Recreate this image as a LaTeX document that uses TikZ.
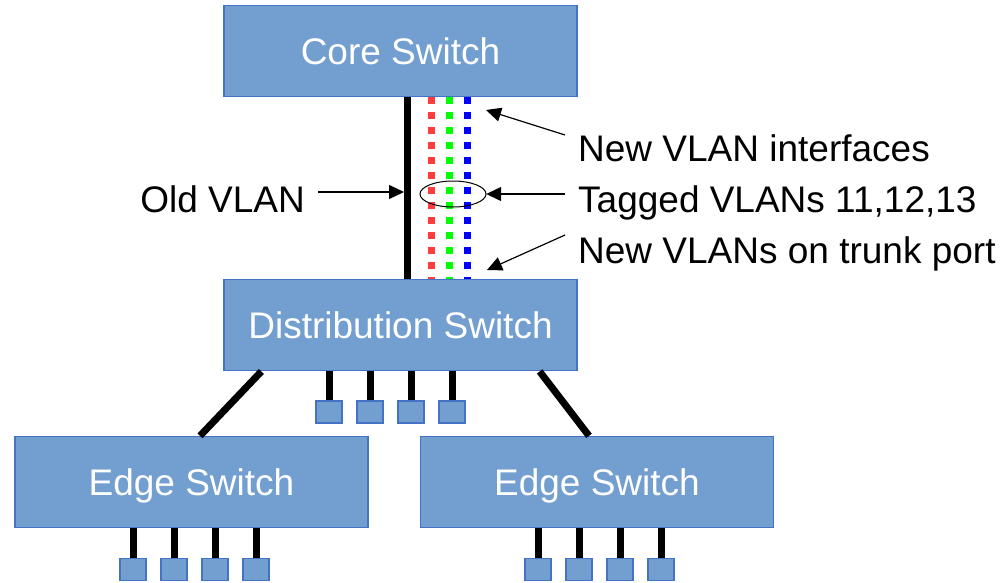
\documentclass[tikz,border=0pt]{standalone}
\usepackage{fontspec}
\setmainfont{Liberation Sans}
\usepackage{tikz}
\usetikzlibrary{positioning,arrows.meta,calc}

\definecolor{swfill}{RGB}{114,159,207}
\definecolor{swline}{RGB}{68,114,196}
\definecolor{vlred}{RGB}{255,60,60}
\definecolor{vlgreen}{RGB}{0,255,0}
\definecolor{vlblue}{RGB}{0,0,255}

\begin{document}
\begin{tikzpicture}[
    x=1pt, y=-1pt,
    node distance=182pt,
    switch/.style={draw=swline, line width=1.3pt, fill=swfill, text=white, minimum width=353pt, minimum height=91pt, inner sep=0pt, font=\fontsize{37}{44}\selectfont, text height=27pt, text depth=0pt},
    port/.style={draw=swline, line width=1.2pt, fill=swfill, minimum width=26pt, minimum height=22pt, inner sep=0pt},
    link/.style={line width=7pt},
    vlan/.style={line width=7pt, dash pattern=on 7pt off 8pt},
    lbl/.style={inner sep=0pt, font=\fontsize{37}{44}\selectfont, text height=27pt, text depth=0pt},
    callout/.style={-{Triangle[length=15pt,width=14pt]}, line width=1.2pt}
]
\useasboundingbox (0,0) rectangle (1006,582);

% switches
\node[switch] (core) at (400.5,51) {Core Switch};
\node[switch, below=of core] (dist) {Distribution Switch};
\node[switch] (edgeL) at (191.5,482) {Edge Switch};
\node[switch] (edgeR) at (597,482) {Edge Switch};

% trunk between core and distribution
\draw[link] ([xshift=6.5pt]core.south) -- ([xshift=6.5pt]dist.north);
\foreach \dx/\col in {30.5/vlred,48.5/vlgreen,66.5/vlblue}
    \draw[vlan,\col] ([xshift=\dx pt]core.south) -- ([xshift=\dx pt]dist.north);
\draw[line width=1pt] (453,194) ellipse (33 and 13);
\node[minimum width=66pt, minimum height=26pt, inner sep=0pt] (tagring) at (453,194) {};

% uplinks of the edge switches
\draw[link] ([xshift=38pt]dist.south west) -- ([xshift=8.5pt]edgeL.north);
\draw[link] ([xshift=-38pt]dist.south east) -- ([xshift=-8pt]edgeR.north);

% access ports
\foreach \px [count=\i] in {329,370,411,452} {
    \node[port] (dp\i) at (\px,412) {};
    \draw[link] (dist.south -| dp\i) -- (dp\i.north);
}
\foreach \px [count=\i] in {133,174,215,256} {
    \node[port] (lp\i) at (\px,569.5) {};
    \draw[link] (edgeL.south -| lp\i) -- (lp\i.north);
}
\foreach \px [count=\i] in {538,579,620,661} {
    \node[port] (rp\i) at (\px,569.5) {};
    \draw[link] (edgeR.south -| rp\i) -- (rp\i.north);
}

% labels
\node[lbl, anchor=east] (lblold) at (305,199) {Old VLAN};
\node[lbl, anchor=west] (lblifc) at (578,148) {New VLAN interfaces};
\node[lbl, anchor=west] (lbltag) at (578,199) {Tagged VLANs 11,12,13};
\node[lbl, anchor=west] (lbltrunk) at (578,250) {New VLANs on trunk port};

\coordinate (oldtip) at (404,192);
\coordinate (ifctip) at (486,110);
\coordinate (trunktip) at (487,270);

\draw[callout] ([xshift=13pt,yshift=7pt]lblold.east) -- (oldtip);
\draw[callout] ([xshift=-13pt,yshift=13pt]lblifc.west) -- (ifctip);
\draw[callout] ([xshift=-13pt,yshift=5pt]lbltag.west) -- (tagring.east);
\draw[callout] ([xshift=-13pt,yshift=15pt]lbltrunk.west) -- (trunktip);
\end{tikzpicture}
\end{document}
